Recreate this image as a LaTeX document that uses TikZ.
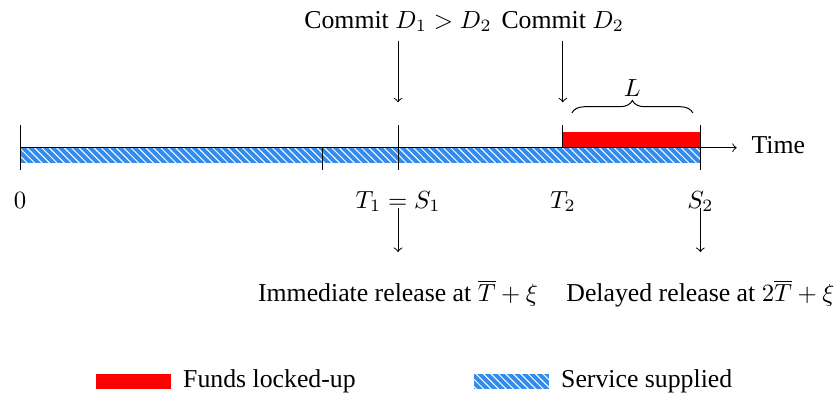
\documentclass[tikz,border=0pt]{standalone}
\usepackage[no-math]{fontspec}
\setmainfont{Liberation Serif}
\usepackage{xcolor}
\usepackage{tikz}
\usetikzlibrary{positioning,patterns,decorations.pathreplacing}

\definecolor{servblue}{RGB}{51,140,235}

\begin{document}
\begin{tikzpicture}[
    x=1.072cm, y=1.072cm,
    every node/.style={anchor=base, font=\fontsize{10.4pt}{12.5pt}\selectfont},
    lockbar/.style={fill=red},
    servbar/.style={preaction={fill=servblue}, pattern=north west lines, pattern color=white},
]
\useasboundingbox (-0.265,-3.284) rectangle (10.807,1.954);
\path[servbar] (0,0) rectangle (9,-0.2);
\path[lockbar] (7.18,0) rectangle (9,0.21);
\draw[->] (0,0) -- (9.48,0);
\node[anchor=base west] (time) at (9.56,-0.075) {Time};
\foreach \x/\a/\b in {0/0.3/-0.3, 4/0/-0.3, 5/0.3/-0.3, 7.18/0.3/0, 9/0.3/-0.3}
    \draw (\x,\a) -- (\x,\b);
\node (zero) at (0,-0.8) {$0$};
\node (tone) at (5,-0.8) {$T_1 = S_1$};
\node (ttwo) at (7.18,-0.8) {$T_2$};
\node (stwo) at (9,-0.8) {$S_2$};
\node (cone) at (5,1.58) {Commit $D_1 > D_2$};
\node (ctwo) at (7.18,1.58) {Commit $D_2$};
\coordinate (conetip) at (5,0.6);
\coordinate (ctwotip) at (7.18,0.6);
\draw[->] (cone.south) -- (conetip);
\draw[->] (ctwo.south) -- (ctwotip);
\draw[decorate, decoration={brace, amplitude=5pt}] (7.30,0.46) -- (8.90,0.46);
\node (len) at (8.1,0.68) {$L$};
\coordinate (relone) at (5,-1.38);
\coordinate (reltwo) at (9,-1.38);
\draw[->] (tone.base) -- (relone);
\draw[->] (stwo.base) -- (reltwo);
\node (immrel) at (5,-2.04) {Immediate release at $\overline{T}+\xi$};
\node (delrel) at (9,-2.04) {Delayed release at $2\overline{T}+\xi$};
\node [lockbar, anchor=center, minimum width=1.07cm, minimum height=0.21cm, inner sep=0] (lockkey) at (1.5,-3.09) {};
\node [right=0.04cm of lockkey] (locktxt) {Funds locked-up};
\node [servbar, anchor=center, minimum width=1.07cm, minimum height=0.21cm, inner sep=0] (servkey) at (6.5,-3.09) {};
\node [right=0.04cm of servkey] (servtxt) {Service supplied};
\end{tikzpicture}
\end{document}
